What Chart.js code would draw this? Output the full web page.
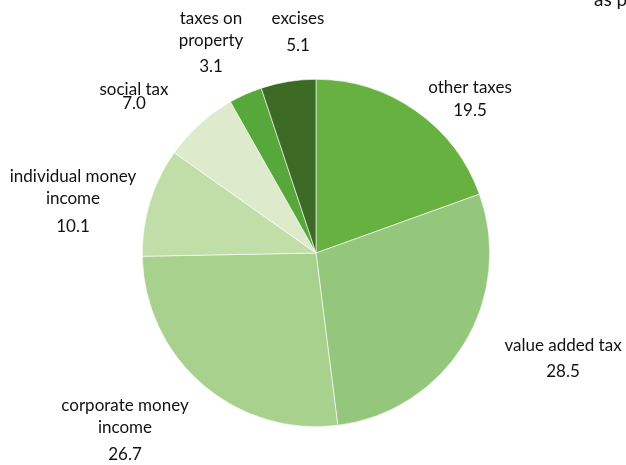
<!DOCTYPE html>
<html lang="en">
<head>
    <meta charset="UTF-8">
    <style>
        html, body { margin: 0; padding: 0; background: #fff; }
        #wrap { width: 626px; height: 465px; }
    </style>
</head>
<body>
    <div id="wrap"><canvas id="pieChart" width="626" height="465"></canvas></div>

    <script src="https://cdn.jsdelivr.net/npm/chart.js"></script>
    <script>
        const categories = ["other taxes", "value added tax", "corporate money income", "individual money income", "social tax", "taxes on property", "excises"];
        const shares = [19.5, 28.5, 26.7, 10.1, 7.0, 3.1, 5.1];
        const labelLines = [["other taxes"], ["value added tax"], ["corporate money", "income"], ["individual money", "income"], ["social tax"], ["taxes on", "property"], ["excises"]];

        const sliceColors = ["#67b141", "#94c67c", "#a9d18e", "#c1dea8", "#ddebcc", "#57a83a", "#3d6b25"];
        // label anchor offsets from the pie centre (x, y of first line), plus gap before the value
        const labelOffsets = [[154, -165, 23], [247, 93, 26], [-191, 153, 27], [-243, -76, 28], [-182, -163, 14], [-105, -234, 26], [-18, -234, 27]];

        const labelPlugin = {
            id: "sliceLabels",
            afterDraw(chart) {
                const ctx = chart.ctx;
                const arc = chart.getDatasetMeta(0).data[0];
                const cx = arc.x, cy = arc.y;
                ctx.save();
                ctx.fillStyle = "#111";
                ctx.font = "17px Lato, 'Open Sans', sans-serif";
                ctx.textAlign = "center";
                ctx.textBaseline = "middle";
                shares.forEach((v, i) => {
                    const [dx, dy, gap] = labelOffsets[i];
                    let y = cy + dy;
                    labelLines[i].forEach((line, j) => {
                        ctx.fillText(line, cx + dx, y);
                        if (j < labelLines[i].length - 1) y += 22;
                    });
                    ctx.fillText(v.toFixed(1), cx + dx, y + gap);
                });
                // title, mostly outside the picture
                ctx.textAlign = "left";
                ctx.font = "19px Lato, 'Open Sans', sans-serif";
                ctx.fillText("as percentage of total", 594, 0);
                ctx.restore();
            }
        };

        new Chart(document.getElementById("pieChart"), {
            type: "pie",
            data: {
                labels: categories,
                datasets: [{
                    data: shares,
                    backgroundColor: sliceColors,
                    borderColor: "#ffffff",
                    borderWidth: 0.6
                }]
            },
            options: {
                responsive: false,
                animation: false,
                layout: { padding: { left: 142, right: 136, top: 79, bottom: 38 } },
                plugins: {
                    legend: { display: false },
                    tooltip: { enabled: false }
                }
            },
            plugins: [labelPlugin]
        });
    </script>
</body>
</html>
